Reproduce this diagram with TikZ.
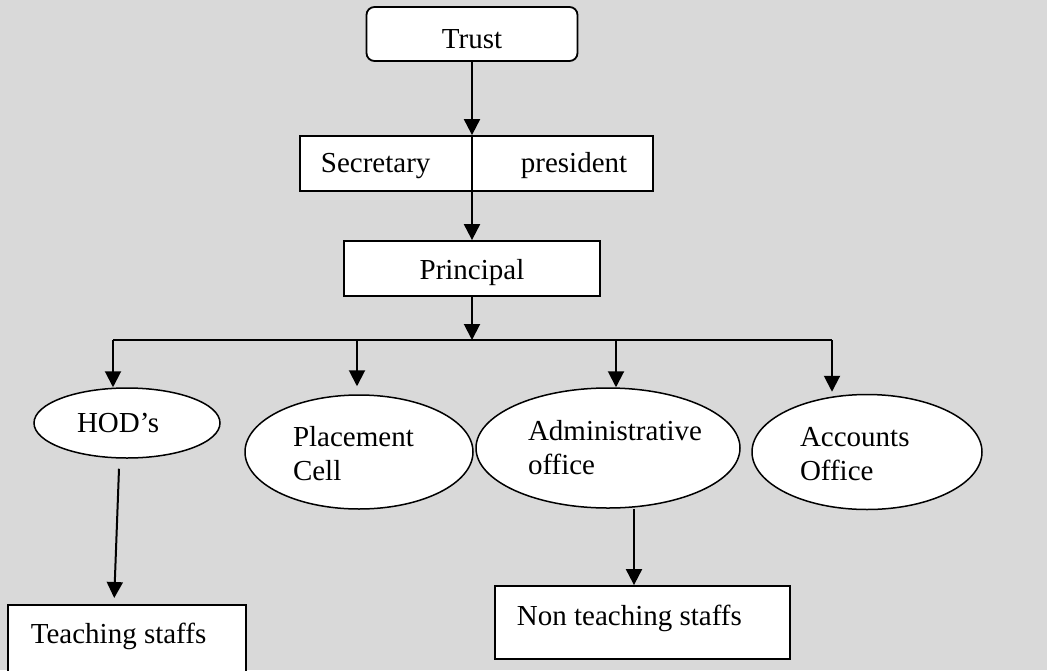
\documentclass[tikz,border=0pt]{standalone}
\usepackage{fontspec}
\setmainfont{Liberation Serif}
\usetikzlibrary{arrows.meta,shapes.geometric}
\definecolor{bg}{RGB}{217,217,217}
\begin{document}
\begin{tikzpicture}[x=1pt,y=-1pt,
  line width=1.8pt,
  every node/.style={font=\fontsize{29}{34}\selectfont},
  box/.style={draw, fill=white, rectangle, inner sep=0pt},
  oval/.style={draw, fill=white, ellipse, inner sep=0pt, align=left, line width=1.5pt},
  lbl/.style={inner sep=0pt, anchor=west},
  arr/.style={line width=2pt, -{Triangle[length=16pt,width=16pt]}}]
\fill[bg] (0,0) rectangle (1047,670);
\useasboundingbox (0,0) rectangle (1047,670);
\clip (0,0) rectangle (1047,670);

% boxes
\node[box, rounded corners=8pt, minimum width=211pt, minimum height=54pt, text height=28pt, text depth=0pt] (trust) at (472,34) {Trust};
\node[box, minimum width=353pt, minimum height=55pt] (sp) at (476.5,163.5) {};
\node[lbl] (sec) at (320,166) {Secretary};
\node[lbl] (pres) at (520,166) {president};
\node[box, minimum width=256pt, minimum height=55pt, text height=21pt, text depth=0pt] (prin) at (472,268.5) {Principal};

% ellipses
\node[oval, minimum width=186pt, minimum height=70pt, text width=100pt] (hod) at (127,423) {HOD’s};
\node[oval, minimum width=228pt, minimum height=114pt, text width=132pt] (pc) at (359,452) {\rule{0pt}{24pt}Placement\\Cell};
\node[oval, minimum width=264pt, minimum height=120pt, text width=160pt] (adm) at (608,448) {Administrative\\office};
\node[oval, minimum width=230pt, minimum height=115pt, text width=134pt] (acc) at (867,452) {\rule{0pt}{24pt}Accounts\\Office};

% bottom boxes
\node[box, anchor=north west, minimum width=238pt, minimum height=90pt] (teach) at (7,604) {};
\node[lbl] (teacht) at (30,636) {Teaching staffs};
\node[box, minimum width=295pt, minimum height=73pt] (nt) at (642.5,622.5) {};
\node[lbl] (ntt) at (516,618) {Non teaching staffs};

% connectors
\draw[arr] (trust.south) -- (sp.north -| trust.south);
\draw[line width=1.5pt] (sp.north -| trust.south) -- (sp.south -| trust.south);
\draw[arr] (sp.south -| trust.south) -- (prin.north);

\coordinate (bar) at (472,340);
\coordinate (barL) at (113,340);
\coordinate (barR) at (832,340);
\coordinate (dP) at (357,340);
\coordinate (dA) at (616,340);
\draw[arr] (prin.south) -- (bar);
\draw[line width=2pt] (barL) -- (barR);
\draw[arr] (barL) -- (barL |- hod.north);
\draw[arr, shorten >=8pt] (dP) -- (dP |- pc.north);
\draw[arr] (dA) -- (dA |- adm.north);
\draw[arr, shorten >=2pt] (barR) -- (barR |- acc.north);
\draw[arr, shorten >=6pt] ([shift={(-8,10)}]hod.south) -- ([xshift=107pt]teach.north west);
\draw[arr] ([xshift=26pt]adm.south) -- ([xshift=26pt]adm.south |- nt.north);
\end{tikzpicture}
\end{document}
